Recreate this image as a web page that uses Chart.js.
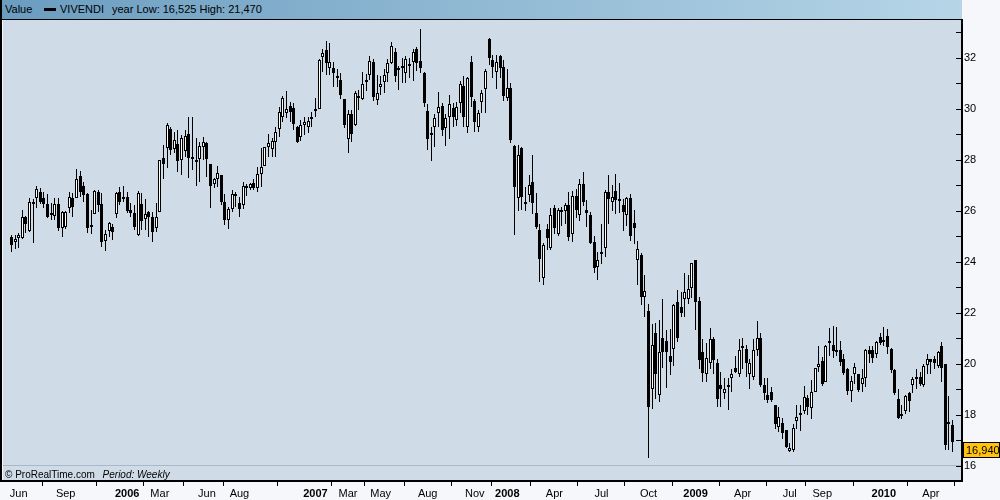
<!DOCTYPE html>
<html>
<head>
<meta charset="utf-8">
<script src="https://cdn.jsdelivr.net/npm/chart.js@4.4.1/dist/chart.umd.min.js"></script>
<style>
html,body{margin:0;padding:0;background:#f5f7fa;}
#wrap{position:relative;width:1000px;height:500px;overflow:hidden;background:#f5f7fa;font-family:"Liberation Sans",Arial,sans-serif;color:#000;}
#c{position:absolute;left:0;top:0;}
#hdr{position:absolute;left:0;top:0;width:962px;height:20px;box-sizing:border-box;border-bottom:1px solid #000;border-left:2px solid #000;background:linear-gradient(to right,#6b9dc0,#b6d5e7);font-size:11px;}
#hdr span{position:absolute;top:3px;white-space:nowrap;}
#sym{position:absolute;left:42px;top:8px;width:12px;height:3px;background:#000;}
#foot{position:absolute;left:5px;top:469px;font-size:10px;white-space:nowrap;}
#foot i{margin-left:5px;}
</style>
</head>
<body>
<div id="wrap">
<canvas id="c" width="1000" height="500"></canvas>
<div id="hdr"><span style="left:3px">Value</span><div id="sym"></div><span style="left:58px">VIVENDI</span><span style="left:110px">year Low: 16,525 High: 21,470</span></div>
<div id="foot">© ProRealTime.com <i>Period: Weekly</i></div>
</div>
<script>
// Weekly candles, first week = 23 May 2005
const opens = [
24.96,24.76,24.92,24.92,25.74,25.22,26.25,26.52,26.73,26.49,
26.26,25.92,25.79,26.26,25.33,25.35,26.13,26.51,26.52,27.36,
26.97,26.66,25.35,25.86,26.75,26.26,24.82,25.21,25.36,25.86,
26.72,26.45,26.55,26.05,25.92,25.05,26.26,25.69,25.97,25.77,
25.31,25.96,28.07,28.45,29.21,28.41,28.62,27.99,28.35,29.01,
28.05,27.91,28.05,28.49,28.64,27.83,27.05,27.24,27.40,26.36,
25.66,26.09,26.61,26.32,26.23,26.97,26.88,27.08,26.88,27.44,
27.77,28.49,28.41,28.71,29.19,29.66,29.85,30.11,30.05,29.30,
28.88,29.36,29.27,29.58,29.98,29.98,32.04,32.30,31.58,31.58,
31.28,31.13,30.37,28.80,29.78,29.35,30.42,30.37,31.06,31.32,
31.82,30.34,30.86,31.06,31.39,31.78,32.24,31.61,31.67,31.41,
31.75,31.83,32.33,31.87,31.39,29.91,29.03,29.27,29.82,30.11,
29.23,29.66,30.05,29.56,30.21,30.89,29.30,31.82,30.30,29.30,
30.26,30.76,32.73,31.91,31.45,32.07,31.65,30.43,30.82,28.54,
26.49,28.45,26.26,26.63,27.14,25.90,25.24,23.35,25.27,24.55,
26.13,25.11,26.05,26.00,26.21,25.11,26.58,25.83,27.07,26.05,
25.85,24.78,23.78,24.38,24.55,26.75,26.36,26.79,26.45,26.21,
25.85,26.49,25.51,24.07,24.26,22.63,22.07,19.03,21.23,18.80,
21.03,20.89,20.30,20.60,22.41,22.24,22.56,22.56,22.96,24.07,
22.46,20.47,19.60,20.05,20.96,20.05,19.19,18.84,19.08,19.43,
19.82,19.62,20.70,20.58,19.60,19.47,20.54,21.03,19.17,18.77,
18.88,18.38,17.53,17.70,17.40,16.59,16.64,17.77,18.03,18.16,
18.68,18.29,18.90,19.88,20.11,19.30,20.89,20.73,20.54,20.56,
20.18,19.79,18.94,19.60,19.60,19.23,19.43,20.56,20.54,20.40,
21.06,20.93,21.10,20.60,19.75,18.64,17.95,18.16,18.84,19.19,
19.44,19.49,19.19,19.95,20.20,20.21,19.91,20.70,19.99,17.64,
17.62];
const highs = [
25.05,25.07,25.14,26.05,25.78,26.52,26.47,26.98,26.90,26.72,
26.65,26.31,26.49,26.49,26.00,25.98,26.75,26.71,27.62,27.57,
27.14,26.70,26.03,26.81,26.81,26.71,25.24,25.57,25.50,26.75,
26.94,26.96,26.72,26.30,26.22,26.79,26.68,26.48,26.00,25.97,
26.31,28.00,28.58,29.43,29.30,29.10,29.17,28.97,29.15,29.66,
29.69,28.84,28.71,28.88,28.71,27.83,27.27,27.75,27.40,26.66,
26.16,26.81,26.72,26.55,27.13,27.05,27.10,27.26,27.73,28.47,
28.52,29.01,28.84,29.30,30.08,30.50,30.69,30.28,30.21,29.33,
29.56,29.69,29.69,29.88,30.41,31.94,32.36,32.66,32.59,31.82,
31.54,31.39,30.37,29.95,29.95,30.71,30.73,31.44,31.35,32.07,
31.97,31.32,31.30,31.57,31.95,32.62,32.38,31.68,31.98,32.05,
32.00,32.34,32.43,33.11,31.43,30.18,29.30,29.79,30.65,30.21,
29.79,30.54,30.21,30.27,31.09,31.28,31.23,32.05,30.40,29.95,
30.73,31.55,32.78,32.10,32.10,32.10,31.90,31.54,31.03,28.58,
28.58,28.51,26.95,27.40,28.18,26.68,25.50,24.73,25.50,26.10,
26.23,26.10,26.15,26.30,26.75,26.77,26.84,27.23,27.52,26.42,
25.95,25.00,24.40,25.47,26.80,27.40,27.00,27.45,27.10,26.45,
26.56,26.66,26.02,24.80,24.34,23.48,22.33,21.58,21.61,21.71,
22.53,21.32,21.36,22.36,22.91,22.82,23.55,23.50,23.95,24.07,
22.64,20.98,20.80,21.40,21.05,20.18,19.70,19.43,19.43,19.80,
20.30,20.98,21.03,20.75,20.20,20.96,21.70,21.23,19.45,19.45,
19.10,18.40,18.33,17.86,17.40,16.88,17.63,18.37,18.40,19.12,
18.77,19.38,19.82,20.70,20.27,20.74,21.40,21.47,21.43,20.90,
20.40,19.82,19.52,20.05,19.60,19.80,20.60,20.70,20.70,20.90,
21.20,21.45,21.36,20.62,19.80,19.00,18.40,18.78,18.90,19.50,
19.80,19.70,20.00,20.40,20.20,20.30,20.50,20.85,20.00,18.75,
17.80];
const lows = [
24.39,24.50,24.53,24.90,25.14,25.18,24.72,26.13,26.26,26.13,
25.70,25.66,25.66,25.22,24.98,25.30,25.92,25.77,26.50,26.55,
26.35,25.15,25.11,25.86,25.96,24.59,24.43,24.98,24.85,25.73,
26.23,26.36,25.92,25.75,25.25,25.01,25.25,25.25,24.98,24.79,
25.18,25.95,27.23,27.66,28.19,28.28,27.53,27.40,28.10,27.27,
27.60,26.98,27.14,27.99,27.34,26.12,26.88,26.94,26.23,25.44,
25.29,25.96,26.16,25.77,26.09,26.60,26.80,26.80,26.75,26.94,
27.76,28.12,28.12,28.12,28.90,29.49,29.62,29.49,29.17,28.64,
28.75,28.97,29.04,29.30,29.69,29.98,31.45,31.32,31.32,30.86,
30.86,30.39,29.26,28.25,28.71,29.34,29.95,30.36,30.69,31.11,
30.32,30.15,30.55,30.60,31.05,31.75,31.06,30.72,31.00,31.00,
31.20,31.07,31.50,31.39,30.08,28.38,27.96,28.51,29.30,28.94,
28.56,28.81,29.30,29.34,29.82,29.30,29.06,30.08,29.10,29.10,
29.82,29.82,31.72,31.22,30.78,31.20,30.30,30.30,28.66,25.07,
25.99,26.05,26.00,26.36,25.87,25.30,23.20,23.09,24.46,24.45,
25.11,25.00,25.40,25.50,24.82,24.79,25.70,25.61,26.20,25.37,
24.70,23.55,23.27,23.90,24.18,25.50,26.00,25.88,25.90,25.20,
25.40,24.82,24.70,23.10,22.30,21.85,16.33,18.25,18.64,18.51,
19.82,19.04,19.56,19.92,20.85,21.85,21.85,22.35,22.58,21.33,
19.80,19.30,19.28,19.80,19.60,18.30,18.30,18.64,18.20,18.90,
19.66,19.50,19.80,19.50,19.02,19.35,20.30,19.10,18.60,18.45,
18.50,17.45,17.35,17.07,16.70,16.53,16.55,17.45,17.38,18.05,
18.00,17.84,18.90,19.68,19.15,19.28,20.30,20.25,20.30,19.90,
19.58,18.80,18.50,19.20,18.90,18.90,19.10,20.05,20.05,20.25,
20.75,20.70,20.40,19.65,18.80,17.84,17.85,18.05,18.10,18.85,
19.00,19.15,19.10,19.60,19.60,19.80,19.85,19.30,16.64,16.64,
16.55];
const closes = [
24.68,24.89,25.05,25.74,25.48,26.35,26.34,26.84,26.35,26.26,
25.74,25.86,26.26,25.34,25.95,25.95,26.55,26.16,27.23,26.75,
26.62,25.31,25.44,26.77,26.21,24.79,25.09,25.54,25.18,26.71,
26.36,26.52,26.00,25.90,25.38,26.68,25.61,25.87,25.77,25.18,
25.74,27.99,27.83,29.35,28.38,28.77,27.96,28.84,28.95,28.09,
28.12,27.99,28.54,28.71,28.05,26.98,27.23,27.49,26.36,25.66,
26.09,26.66,26.66,26.09,26.97,26.88,27.05,26.88,27.43,27.73,
28.51,28.64,28.74,29.09,29.86,30.41,29.98,29.88,29.39,28.71,
29.35,29.49,29.52,29.66,29.92,31.91,32.17,31.81,31.85,31.41,
31.23,30.54,29.36,29.78,29.03,30.60,30.50,30.99,31.13,31.88,
30.47,30.60,30.97,31.32,31.78,32.46,31.30,31.54,31.58,31.97,
31.70,32.21,31.78,31.58,30.21,28.80,28.97,29.62,30.08,29.17,
29.62,30.18,29.66,30.08,30.99,29.66,31.19,30.45,29.49,29.82,
30.60,31.48,32.01,31.62,31.82,31.61,30.50,30.82,28.77,26.94,
28.18,26.55,26.34,27.03,26.29,25.37,24.13,24.66,24.92,25.83,
25.31,26.05,25.96,26.21,24.98,26.58,26.03,27.07,26.36,25.90,
24.74,23.74,24.07,24.29,26.75,26.45,26.55,26.42,26.39,25.96,
26.49,25.01,25.31,24.49,22.63,22.87,18.32,20.73,19.60,20.45,
20.47,20.45,20.07,22.30,21.03,22.00,22.80,22.92,23.94,22.43,
20.17,19.66,20.25,20.96,20.15,18.64,19.00,19.00,19.17,19.62,
19.69,20.54,20.64,20.04,20.02,20.54,21.03,19.19,18.84,18.60,
18.58,17.66,17.92,17.30,16.75,16.72,17.47,17.90,18.07,18.71,
18.32,18.90,19.82,20.01,19.23,20.70,20.80,20.51,20.45,20.08,
19.65,18.94,19.32,19.86,18.99,19.45,20.54,20.38,20.25,20.84,
20.83,20.88,20.67,19.75,18.87,17.86,18.02,18.73,18.55,19.39,
19.49,19.23,19.91,20.20,20.08,20.04,20.47,19.82,16.84,17.73,
16.94];

// x-axis labels and the week index where each month starts
const tickLabels = ['Jun','Sep','2006','Mar','Jun','Aug','2007','Mar','May','Aug','Nov','2008','Apr','Jul','Oct','2009','Apr','Jul','Sep','2010','Apr'];
const tickWeeks  = [2,15,32,41,54,63,84,93,102,115,128,137,150,163,176,189,202,215,224,241,254];
const yTicks = [16,18,20,22,24,26,28,30,32];
const yMinorTicks = [17,19,21,23,25,27,29,31,33];

const FONT = '"Liberation Sans", Arial, sans-serif';
Chart.defaults.font.family = FONT;
Chart.defaults.font.size = 11;
Chart.defaults.color = '#000';

const bodies = opens.map((o, i) => {
  let lo = Math.min(o, closes[i]), hi = Math.max(o, closes[i]);
  if (hi - lo < 0.08) { const m = (hi + lo) / 2; lo = m - 0.04; hi = m + 0.04; }
  return {x: i, y: [lo, hi]};
});
const bodyColors = opens.map((o, i) => closes[i] >= o ? '#ffffff' : '#000000');
const wicks = lows.map((l, i) => ({x: i, y: [l, highs[i]]}));

// snap bar elements (positioned by the scales) onto whole pixels for crisp candles
const snap = {
  id: 'snap',
  afterDatasetsUpdate(chart) {
    chart.data.datasets.forEach((ds, di) => {
      chart.getDatasetMeta(di).data.forEach(el => {
        el.x = Math.floor(el.x) + 0.5;
        el.y = Math.round(el.y);
        el.base = Math.round(el.base);
      });
    });
  }
};

const decor = {
  id: 'decor',
  beforeDraw(chart) {
    const {ctx, chartArea: a} = chart;
    ctx.save();
    ctx.fillStyle = '#f5f7fa';
    ctx.fillRect(0, 0, chart.width, chart.height);
    ctx.fillStyle = '#cfdce8';
    ctx.fillRect(a.left, a.top, a.right - a.left, a.bottom - a.top);
    ctx.restore();
  },
  afterDraw(chart) {
    const {ctx, chartArea: a, scales: {y}} = chart;
    ctx.save();
    ctx.fillStyle = '#000';
    ctx.fillRect(0, 0, 2, a.bottom + 1);
    ctx.strokeStyle = '#000';
    ctx.lineWidth = 1;
    yTicks.concat(yMinorTicks).forEach(v => {
      const py = Math.round(y.getPixelForValue(v)) + 0.5;
      ctx.beginPath();
      ctx.moveTo(a.right - 6, py);
      ctx.lineTo(a.right, py);
      ctx.stroke();
    });
    const last = closes[closes.length - 1];
    const py = Math.round(y.getPixelForValue(last));
    ctx.fillStyle = '#ffc20e';
    ctx.fillRect(a.right + 1, py, 37, 16);
    ctx.strokeStyle = '#000';
    ctx.strokeRect(a.right + 1.5, py + 0.5, 36, 15);
    ctx.fillStyle = '#000';
    ctx.font = '11px ' + FONT;
    ctx.textBaseline = 'middle';
    ctx.textAlign = 'left';
    ctx.fillText(last.toFixed(3).replace('.', ','), a.right + 4, py + 8.5);
    ctx.restore();
  }
};

new Chart(document.getElementById('c'), {
  type: 'bar',
  data: {
    datasets: [
      {label: 'body', data: bodies, backgroundColor: bodyColors, borderColor: '#000', borderWidth: 1,
       borderSkipped: false, barThickness: 3, grouped: false, inflateAmount: 0, order: 0},
      {label: 'wick', data: wicks, backgroundColor: '#000', borderWidth: 0,
       barThickness: 1, grouped: false, inflateAmount: 0, order: 1}
    ]
  },
  options: {
    responsive: false,
    animation: false,
    devicePixelRatio: 1,
    layout: {padding: {left: 3, top: 20, right: 0, bottom: 0}},
    plugins: {legend: {display: false}, tooltip: {enabled: false}, title: {display: false}},
    scales: {
      x: {
        type: 'linear', position: 'bottom', min: -2.32, max: 262.6, offset: false,
        afterFit: s => { s.height = 19; },
        afterBuildTicks: s => { s.ticks = tickWeeks.map(v => ({value: v})); },
        ticks: {
          autoSkip: false, maxRotation: 0, minRotation: 0, padding: 1, color: '#000',
          font: ctx => ({family: FONT, size: 11, weight: /^20/.test(tickLabels[ctx.index] || '') ? 'bold' : 'normal'}),
          callback: (v, i) => tickLabels[i]
        },
        grid: {drawOnChartArea: false, drawTicks: true, tickLength: 5, color: '#000', lineWidth: 1},
        border: {display: true, color: '#000', width: 2}
      },
      y: {
        type: 'linear', position: 'right', min: 15.41, max: 33.48,
        afterFit: s => { s.width = 38; },
        afterBuildTicks: s => { s.ticks = yTicks.map(v => ({value: v})); },
        ticks: {padding: 2, color: '#000', font: {family: FONT, size: 11}, callback: v => String(v)},
        grid: {drawTicks: false, lineWidth: 1,
               color: ctx => (ctx.tick && ctx.tick.value === 16) ? '#a9b8c6' : 'rgba(0,0,0,0)'},
        border: {display: true, color: '#000', width: 2}
      }
    }
  },
  plugins: [snap, decor]
});
</script>
</body>
</html>
